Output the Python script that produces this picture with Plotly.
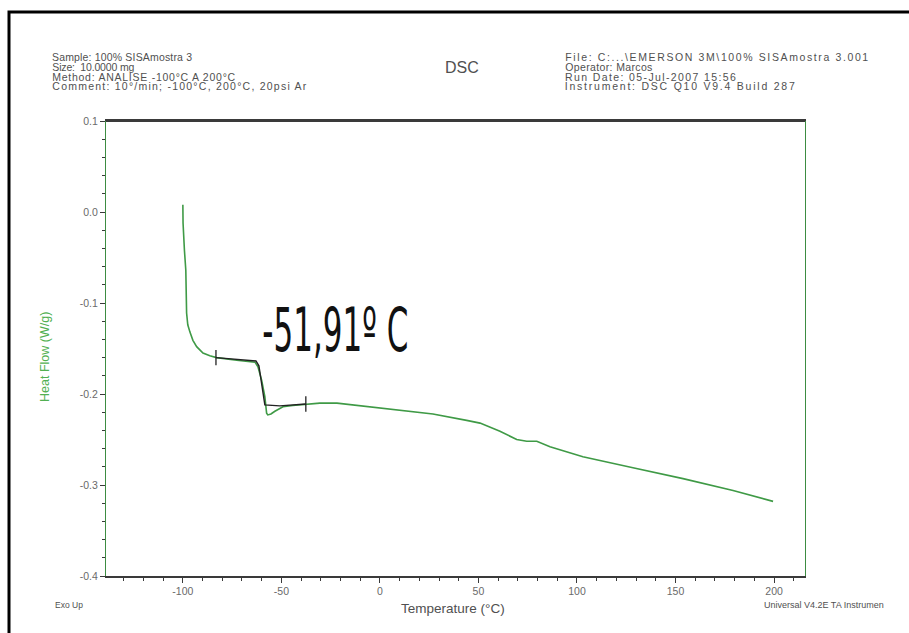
import json
import plotly.graph_objects as go

# DSC heat-flow trace, 10 °C/min, -100 °C to 200 °C
temperature = [-100.0, -99.9, -99.2, -98.5, -98.1, -97.5, -96.4, -94.9, -93.0, -89.8,
               -86.3, -82.9, -72.7, -66.0, -63.4, -61.9, -60.0, -58.4, -57.5, -56.9,
               -55.3, -53.3, -49.2, -44.2, -39.1, -30.5, -21.8, -5.1, 11.7, 26.9,
               44.0, 50.8, 60.9, 69.4, 74.5, 79.6, 86.3, 103.0, 128.4, 153.8,
               179.2, 199.5]
heat_flow = [0.008, -0.012, -0.042, -0.064, -0.111, -0.124, -0.132, -0.141, -0.148, -0.155,
             -0.158, -0.160, -0.163, -0.164, -0.165, -0.170, -0.185, -0.203, -0.221, -0.223,
             -0.222, -0.219, -0.214, -0.2127, -0.212, -0.210, -0.210, -0.214, -0.218, -0.222,
             -0.229, -0.232, -0.241, -0.250, -0.252, -0.252, -0.258, -0.269, -0.281, -0.293,
             -0.306, -0.318]

# glass-transition analysis segment (baselines + step)
tg_temperature = [-83.2, -71.1, -62.9, -61.4, -59.4, -58.4, -50.8, -37.6]
tg_heat_flow = [-0.160, -0.1626, -0.1637, -0.169, -0.1956, -0.212, -0.213, -0.211]
tg_limits_t = [-83.2, -37.6]
tg_limits_hf = [-0.160, -0.211]
tg_label = "-51,91º C"

x_ticks = [-100, -50, 0, 50, 100, 150, 200]
y_ticks = [0.1, 0.0, -0.1, -0.2, -0.3, -0.4]

header_left = ["Sample: 100% SISAmostra 3",
               "Size:  10.0000 mg",
               "Method: ANALISE -100°C A 200°C",
               "Comment: 10°/min; -100°C, 200°C, 20psi Ar"]
header_right = ["File: C:...\\EMERSON 3M\\100% SISAmostra 3.001",
                "Operator: Marcos",
                "Run Date: 05-Jul-2007 15:56",
                "Instrument: DSC Q10 V9.4 Build 287"]

FIG_W, FIG_H = 909, 633
L, R, T, B = 106, 805, 121, 576
PW, PH = R - L, B - T

# rendered widths (px) of the header lines in the instrument's printer font
header_left_w = [140, 82, 183, 254]
header_right_w = [303, 87, 171, 230]


def px_x(p):
    return (p - L) / PW


def px_y(p):
    return 1 - (p - T) / PH


GREEN = "#3f9a46"
AXIS_GREEN = "#3d8c42"
DARK = "#3a3a3a"
TEXT = "#555555"
FONT = "Liberation Sans, Arial, sans-serif"

fig = go.Figure()
fig.add_trace(go.Scatter(x=temperature, y=heat_flow, mode="lines",
                         line=dict(color=GREEN, width=1.6), hoverinfo="skip"))
fig.add_trace(go.Scatter(x=tg_temperature, y=tg_heat_flow, mode="lines",
                         line=dict(color="#222222", width=1.4), hoverinfo="skip"))
fig.add_trace(go.Scatter(x=tg_limits_t, y=tg_limits_hf, mode="markers",
                         marker=dict(symbol="line-ns", size=11,
                                     line=dict(color="#222222", width=1.3)),
                         hoverinfo="skip"))

fig.update_layout(
    width=FIG_W, height=FIG_H, autosize=False,
    margin=dict(l=L, r=FIG_W - R, t=T, b=FIG_H - B, pad=0),
    paper_bgcolor="white", plot_bgcolor="white",
    showlegend=False,
    font=dict(family=FONT, color=TEXT),
    xaxis=dict(range=[-139, 215.7], tickvals=x_ticks, ticktext=[str(v) for v in x_ticks],
               showgrid=False, zeroline=False, showline=True, linecolor=DARK, linewidth=1.5,
               mirror=True, ticks="outside", ticklen=5, tickcolor=DARK,
               tickfont=dict(size=10.5, color="#6a6a6a", family=FONT),
               minor=dict(dtick=10, tick0=0, ticks="outside", ticklen=3, tickcolor=DARK)),
    yaxis=dict(range=[-0.4, 0.1], tickvals=y_ticks,
               ticktext=[f"{v:.1f}" for v in y_ticks],
               showgrid=False, zeroline=False, showline=True, linecolor=AXIS_GREEN, linewidth=1.3,
               mirror=True, ticks="outside", ticklen=5, tickcolor=DARK,
               tickfont=dict(size=10.5, color="#6a6a6a", family=FONT),
               minor=dict(dtick=0.02, tick0=0, ticks="outside", ticklen=3, tickcolor=DARK)),
)

# top frame line drawn dark over the mirrored green corner
fig.add_shape(type="line", xref="paper", yref="paper", x0=0, x1=1, y0=1, y1=1,
              line=dict(color=DARK, width=1.8))

# outer page border
fig.add_shape(type="rect", xref="paper", yref="paper",
              x0=px_x(9), x1=px_x(980), y0=px_y(700), y1=px_y(12),
              line=dict(color="black", width=3), layer="above")

HEADER_SIZE = 10.5
annotations = []
# header lines are centred on their final span, so the width fit below
# stretches them symmetrically and they still start at the block margin
for i, (line, w) in enumerate(zip(header_left, header_left_w)):
    annotations.append(dict(text=line, x=px_x(52 + w / 2), y=px_y(57 + i * 9.8)))
for i, (line, w) in enumerate(zip(header_right, header_right_w)):
    annotations.append(dict(text=line, x=px_x(565 + w / 2), y=px_y(57 + i * 9.8)))
for a in annotations:
    a.update(xref="paper", yref="paper", showarrow=False,
             xanchor="center", yanchor="middle",
             font=dict(size=HEADER_SIZE, color="#505050", family=FONT))

annotations += [
    dict(text="DSC", x=px_x(462), y=px_y(68), xanchor="center", yanchor="middle",
         font=dict(size=16, color="#505050", family=FONT)),
    dict(text="Heat Flow (W/g)", x=px_x(45), y=px_y(357), textangle=-90,
         xanchor="center", yanchor="middle",
         font=dict(size=12.5, color="#52b052", family=FONT)),
    dict(text="Temperature (°C)", x=px_x(453), y=px_y(608), xanchor="center", yanchor="middle",
         font=dict(size=13.5, color="#505050", family=FONT)),
    dict(text="Exo Up", x=px_x(53), y=px_y(605), xanchor="left", yanchor="middle",
         font=dict(size=8.5, color="#505050", family=FONT)),
    dict(text="Universal V4.2E TA Instrumen", x=px_x(762), y=px_y(605),
         xanchor="left", yanchor="middle",
         font=dict(size=9, color="#505050", family=FONT)),
    dict(text=tg_label, x=px_x(335), y=px_y(330), xanchor="center", yanchor="middle",
         font=dict(size=60, color="#111111", family="DejaVu Sans, sans-serif")),
]
for a in annotations:
    a.setdefault("xref", "paper")
    a.setdefault("yref", "paper")
    a.setdefault("showarrow", False)
fig.update_layout(annotations=annotations)

# text widths: the Tg label uses a tall condensed face (glyphs squeezed),
# the header lines use the wider printer spacing (letter spacing only)
fit = {tg_label: [146, "spacingAndGlyphs"]}
for txt, w in zip(header_left + header_right, header_left_w + header_right_w):
    fit[txt] = [w, "spacing"]

fit_js = """
var gd = document.getElementById('{plot_id}');
var FIT = %s;
function fitTexts() {
  document.querySelectorAll('text.annotation-text').forEach(function (t) {
    var spec = FIT[t.textContent];
    if (spec) {
      t.setAttribute('textLength', String(spec[0]));
      t.setAttribute('lengthAdjust', spec[1]);
    }
  });
}
fitTexts();
gd.on('plotly_afterplot', fitTexts);
""" % json.dumps(fit, ensure_ascii=False)

fig.write_html("out.html", post_script=fit_js)
